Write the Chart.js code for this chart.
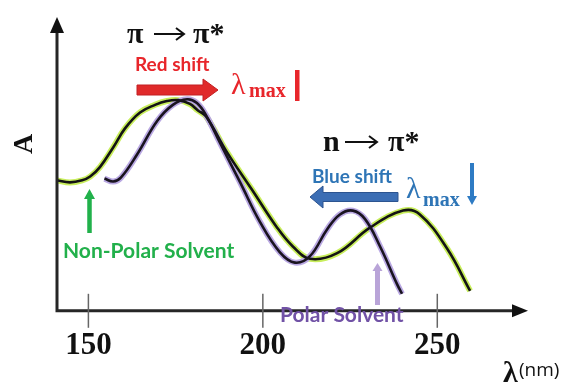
<!DOCTYPE html>
<html>
<head>
<meta charset="utf-8">
<script src="https://cdn.jsdelivr.net/npm/chart.js@4.4.0/dist/chart.umd.min.js"></script>
<style>
  html, body { margin: 0; padding: 0; background: #fff; }
  #wrap { width: 575px; height: 382px; }
</style>
</head>
<body>
<div id="wrap"><canvas id="uv-chart"></canvas></div>
<script>
// wavelength (nm) / absorbance (arbitrary units)
var xTicks = [150, 200, 250];
var nonPolarNm = [141.0, 144.7, 148.2, 150.5, 153.3, 157.1, 160.5, 164.8, 169.1, 172.5, 175.7, 179.1, 181.4, 183.7, 189.7, 196.9, 204.1, 208.6, 213.5, 221.3, 230.7, 240.2, 245.0, 252.8, 259.4];
var nonPolarA  = [4.44, 4.37, 4.44, 4.57, 4.89, 5.56, 6.21, 6.75, 7.01, 7.14, 7.17, 7.04, 6.82, 6.62, 5.40, 4.12, 2.83, 2.19, 1.77, 1.96, 2.83, 3.41, 3.28, 2.12, 0.68];
var polarNm = [154.6, 157.1, 159.3, 163.9, 169.7, 174.2, 178.3, 181.1, 183.7, 187.7, 193.5, 199.2, 204.9, 209.2, 213.5, 218.4, 222.1, 225.8, 229.3, 233.6, 238.5, 239.9];
var polarA  = [4.50, 4.40, 4.53, 5.31, 6.46, 7.01, 7.20, 7.07, 6.66, 5.72, 4.37, 3.02, 1.99, 1.64, 1.86, 2.77, 3.28, 3.41, 3.12, 2.19, 0.90, 0.58];

function toPoints(xs, ys) {
  return xs.map(function (x, i) { return { x: x, y: ys[i] }; });
}

function label(ctx, s, x, y, font, color, align, base, maxW) {
  ctx.font = font;
  ctx.fillStyle = color;
  ctx.textAlign = align || 'left';
  ctx.textBaseline = base || 'middle';
  if (maxW) ctx.fillText(s, x, y, maxW); else ctx.fillText(s, x, y);
}

function hArrow(ctx, tail, tip, y, half, headHalf, headLen, fill, stroke) {
  var d = tip > tail ? 1 : -1;
  var hb = tip - d * headLen;
  ctx.beginPath();
  ctx.moveTo(tail, y - half);
  ctx.lineTo(hb, y - half);
  ctx.lineTo(hb, y - headHalf);
  ctx.lineTo(tip, y);
  ctx.lineTo(hb, y + headHalf);
  ctx.lineTo(hb, y + half);
  ctx.lineTo(tail, y + half);
  ctx.closePath();
  ctx.fillStyle = fill;
  ctx.fill();
  if (stroke) { ctx.strokeStyle = stroke; ctx.lineWidth = 1; ctx.stroke(); }
}

function vArrow(ctx, x, tail, tip, w, headHalf, headLen, color) {
  var d = tip > tail ? 1 : -1;
  var hb = tip - d * headLen;
  ctx.fillStyle = color;
  ctx.beginPath();
  ctx.moveTo(x - w / 2, tail);
  ctx.lineTo(x - w / 2, hb);
  ctx.lineTo(x - headHalf, hb);
  ctx.lineTo(x, tip);
  ctx.lineTo(x + headHalf, hb);
  ctx.lineTo(x + w / 2, hb);
  ctx.lineTo(x + w / 2, tail);
  ctx.closePath();
  ctx.fill();
}

// thin "→" used in the transition labels
function thinArrow(ctx, x1, x2, y) {
  ctx.strokeStyle = '#111';
  ctx.lineWidth = 2;
  ctx.beginPath();
  ctx.moveTo(x1, y);
  ctx.lineTo(x2 - 1, y);
  ctx.moveTo(x2 - 8, y - 6);
  ctx.lineTo(x2, y);
  ctx.lineTo(x2 - 8, y + 6);
  ctx.stroke();
}

var SERIF = "'Liberation Serif', 'Times New Roman', serif";
var SANS = "Lato, 'Open Sans', sans-serif";

var decor = {
  id: 'decor',
  afterDraw: function (chart) {
    var ctx = chart.ctx, a = chart.chartArea, xs = chart.scales.x;
    ctx.save();

    // axes with arrow heads
    ctx.strokeStyle = '#262626';
    ctx.lineWidth = 3;
    ctx.beginPath();
    ctx.moveTo(a.left, a.top + 12);
    ctx.lineTo(a.left, a.bottom);
    ctx.lineTo(a.right - 12, a.bottom);
    ctx.stroke();
    ctx.fillStyle = '#111';
    ctx.beginPath();
    ctx.moveTo(a.right, a.bottom);
    ctx.lineTo(a.right - 16, a.bottom - 6.5);
    ctx.lineTo(a.right - 16, a.bottom + 6.5);
    ctx.closePath();
    ctx.fill();
    ctx.beginPath();
    ctx.moveTo(a.left, a.top);
    ctx.lineTo(a.left - 7, a.top + 16);
    ctx.lineTo(a.left + 7, a.top + 16);
    ctx.closePath();
    ctx.fill();

    // tick marks crossing the x axis
    ctx.strokeStyle = '#666';
    ctx.lineWidth = 1.5;
    xTicks.forEach(function (v) {
      var px = xs.getPixelForValue(v);
      ctx.beginPath();
      ctx.moveTo(px, a.bottom - 17);
      ctx.lineTo(px, a.bottom + 17);
      ctx.stroke();
    });

    // y title
    ctx.save();
    ctx.translate(25, 144);
    ctx.rotate(-Math.PI / 2);
    label(ctx, 'A', 0, 0, 'bold 28px ' + SERIF, '#111', 'center', 'middle');
    ctx.restore();

    // x title
    label(ctx, 'λ', 503, 382, 'bold 30px ' + SERIF, '#111', 'left', 'alphabetic');
    label(ctx, '(nm)', 519, 371, '19px ' + "'Open Sans', sans-serif", '#111', 'left', 'middle');

    // pi -> pi* block
    label(ctx, 'π', 127, 35, 'bold 30px ' + SERIF, '#111', 'left', 'middle');
    thinArrow(ctx, 154, 184, 34);
    label(ctx, 'π*', 193, 35, 'bold 30px ' + SERIF, '#111', 'left', 'middle');
    label(ctx, 'Red shift', 135, 65, 'bold 19px ' + SANS, '#e8262b', 'left', 'middle', 78);
    hArrow(ctx, 137, 218, 90, 5, 11, 15, '#e02a2a', '#c21f22');
    label(ctx, 'λ', 231, 94, '30px ' + SERIF, '#e8262b', 'left', 'alphabetic');
    label(ctx, 'max', 249, 97, 'bold 20px ' + SERIF, '#e8262b', 'left', 'alphabetic');
    ctx.fillStyle = '#e8262b';
    ctx.fillRect(295, 70, 4.5, 31);

    // n -> pi* block
    label(ctx, 'n', 323, 143, 'bold 30px ' + SERIF, '#111', 'left', 'middle');
    thinArrow(ctx, 345, 377, 142);
    label(ctx, 'π*', 388, 143, 'bold 30px ' + SERIF, '#111', 'left', 'middle');
    label(ctx, 'Blue shift', 312, 177, 'bold 19px ' + SANS, '#2e75b6', 'left', 'middle', 84);
    hArrow(ctx, 398, 310, 197, 4.5, 11, 13, '#3c6eb4', '#2c5490');
    label(ctx, 'λ', 406, 198, '30px ' + SERIF, '#2e75b6', 'left', 'alphabetic');
    label(ctx, 'max', 423, 206, 'bold 20px ' + SERIF, '#2e75b6', 'left', 'alphabetic');
    vArrow(ctx, 472, 163, 205, 4, 5, 9, '#2e7bc4');

    // solvent labels
    vArrow(ctx, 89.5, 233, 189, 4.5, 5.5, 10, '#21b14b');
    label(ctx, 'Non-Polar Solvent', 63, 251, 'bold 21px ' + SANS, '#22b04b', 'left', 'middle', 179);
    vArrow(ctx, 377.5, 305, 263, 5, 5, 8, '#b9a4d8');
    label(ctx, 'Polar Solvent', 280, 315, 'bold 21px ' + SANS, '#7152a6', 'left', 'middle', 128);

    ctx.restore();
  }
};

var nonPolarPts = toPoints(nonPolarNm, nonPolarA);
var polarPts = toPoints(polarNm, polarA);

var line = { pointRadius: 0, fill: false, tension: 0.4 };

var context = document.getElementById('uv-chart').getContext('2d');
var chart = new Chart(context, {
  type: 'line',
  data: {
    datasets: [
      Object.assign({ label: 'Polar', data: polarPts, borderColor: '#1a1420', borderWidth: 2.6, order: 1 }, line),
      Object.assign({ label: 'Non-Polar', data: nonPolarPts, borderColor: '#141414', borderWidth: 2.6, order: 2 }, line),
      Object.assign({ label: 'Polar halo', data: polarPts, borderColor: '#b9a8e2', borderWidth: 6, order: 3 }, line),
      Object.assign({ label: 'Non-Polar halo', data: nonPolarPts, borderColor: '#c8ee5c', borderWidth: 6, order: 4 }, line)
    ]
  },
  options: {
    responsive: true,
    maintainAspectRatio: false,
    animation: false,
    layout: { padding: { left: 57, right: 47, top: 17, bottom: 0 } },
    plugins: {
      legend: { display: false },
      tooltip: { enabled: false }
    },
    scales: {
      x: {
        type: 'linear',
        min: 141,
        max: 276,
        afterBuildTicks: function (scale) {
          scale.ticks = xTicks.map(function (v) { return { value: v }; });
        },
        grid: { display: false, drawTicks: false },
        border: { display: false },
        ticks: {
          padding: 17,
          color: '#111',
          autoSkip: false,
          maxRotation: 0,
          font: { family: SERIF, size: 31, weight: 'bold' }
        }
      },
      y: {
        display: false,
        min: 0,
        max: 10
      }
    }
  },
  plugins: [decor]
});
</script>
</body>
</html>
